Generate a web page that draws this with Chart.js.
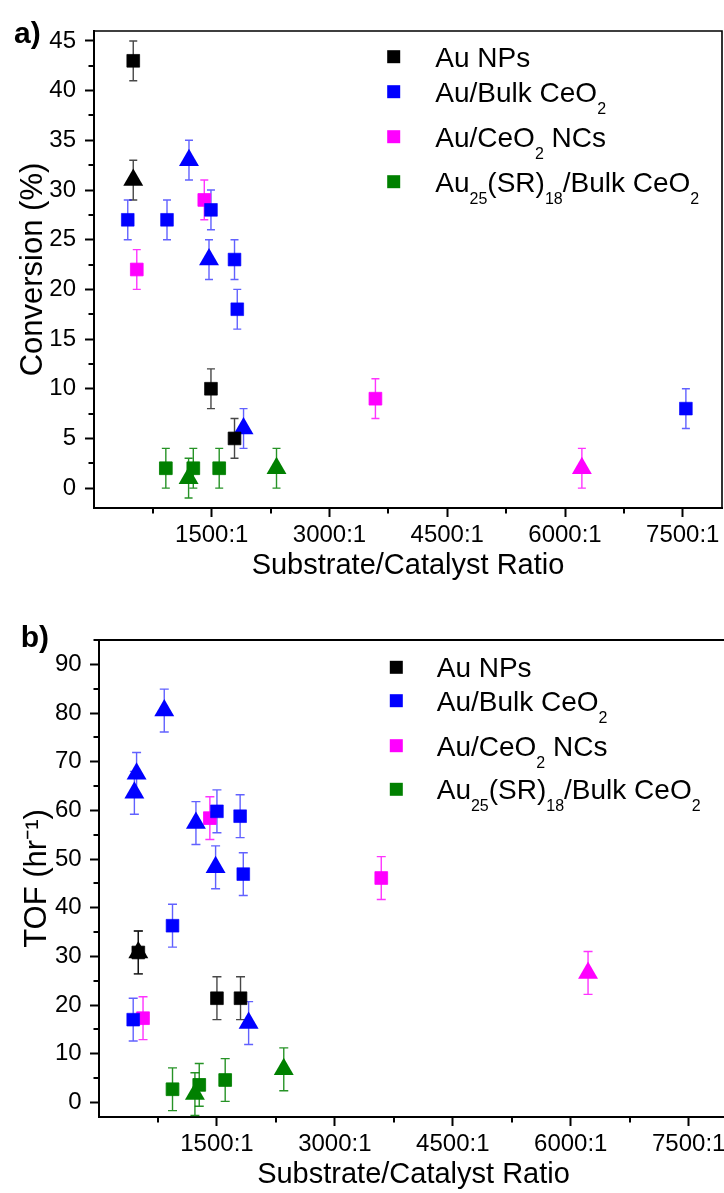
<!DOCTYPE html>
<html>
<head>
<meta charset="utf-8">
<script src="https://cdn.jsdelivr.net/npm/chart.js@4/dist/chart.umd.min.js"></script>
<style>
  html, body { margin: 0; padding: 0; background: #fff; overflow: hidden; width: 724px; height: 1193px; }
  #wrap { position: relative; width: 724px; height: 1193px; overflow: hidden; }
  canvas { position: absolute; left: 0; display: block; }
  #convCanvas { top: 0; }
  #tofCanvas { top: 590px; }
</style>
</head>
<body>
<div id="wrap">
  <canvas id="convCanvas" width="724" height="590"></canvas>
  <canvas id="tofCanvas" width="730" height="603"></canvas>
</div>
<script>
// ---------- series ----------
const seriesNames  = ['Au NPs', 'Au/Bulk CeO_2', 'Au/CeO_2 NCs', 'Au_25(SR)_18/Bulk CeO_2'];
const seriesColors = ['#000000', '#0000ff', '#ff00ff', '#008000'];
const seriesErrColors = ['rgba(0,0,0,0.72)', 'rgba(0,0,255,0.62)', 'rgba(255,0,255,0.8)', 'rgba(0,128,0,0.85)'];

// ---------- axes ----------
const xTickValues = [1500, 3000, 4500, 6000, 7500];
const xTickLabels = ['1500:1', '3000:1', '4500:1', '6000:1', '7500:1'];
const xMinorTicks = [750, 2250, 3750, 5250, 6750];
const convTickValues = [0, 5, 10, 15, 20, 25, 30, 35, 40, 45];
const convMinorTicks = [2.5, 7.5, 12.5, 17.5, 22.5, 27.5, 32.5, 37.5, 42.5];
const tofTickValues = [0, 10, 20, 30, 40, 50, 60, 70, 80, 90];
const tofMinorTicks = [5, 15, 25, 35, 45, 55, 65, 75, 85, 95];

// ---------- a) Conversion (%) ----------
const convNPsSqX = [500, 1490, 1790];
const convNPsSqY = [43, 10, 5];
const convNPsSqErr = [2, 2, 2];
const convNPsTriX = [500];
const convNPsTriY = [31];
const convNPsTriErr = [2];

const convBulkSqX = [430, 930, 1490, 1790, 1825, 7540];
const convBulkSqY = [27, 27, 28, 23, 18, 8];
const convBulkSqErr = [2, 2, 2, 2, 2, 2];
const convBulkTriX = [1210, 1465, 1905];
const convBulkTriY = [33, 23, 6];
const convBulkTriErr = [2, 2, 2];

const convNCsSqX = [545, 1405, 3585];
const convNCsSqY = [22, 29, 9];
const convNCsSqErr = [2, 2, 2];
const convNCsTriX = [6215];
const convNCsTriY = [2];
const convNCsTriErr = [2];

const convAu25SqX = [915, 1265, 1595];
const convAu25SqY = [2, 2, 2];
const convAu25SqErr = [2, 2, 2];
const convAu25TriX = [1205, 2325];
const convAu25TriY = [1, 2];
const convAu25TriErr = [2, 2];

// ---------- b) TOF (hr^-1) ----------
const tofNPsSqX = [500, 1500, 1800];
const tofNPsSqY = [30.8, 21.4, 21.4];
const tofNPsSqErr = [4.4, 4.4, 4.4];
const tofNPsTriX = [500];
const tofNPsTriY = [30.8];
const tofNPsTriErr = [4.4];

const tofBulkSqX = [435, 935, 1500, 1795, 1835];
const tofBulkSqY = [17.0, 36.3, 59.8, 58.8, 46.9];
const tofBulkSqErr = [4.4, 4.4, 4.4, 4.4, 4.4];
const tofBulkTriX = [450, 478, 830, 1233, 1483, 1903];
const tofBulkTriY = [63.6, 67.5, 80.5, 57.4, 48.3, 16.3];
const tofBulkTriErr = [4.4, 4.4, 4.4, 4.4, 4.4, 4.4];

const tofNCsSqX = [560, 1410, 3590];
const tofNCsSqY = [17.3, 58.4, 46.1];
const tofNCsSqErr = [4.4, 4.4, 4.4];
const tofNCsTriX = [6220];
const tofNCsTriY = [26.6];
const tofNCsTriErr = [4.4];

const tofAu25SqX = [935, 1275, 1605];
const tofAu25SqY = [2.7, 3.6, 4.6];
const tofAu25SqErr = [4.4, 4.4, 4.4];
const tofAu25TriX = [1220, 2350];
const tofAu25TriY = [1.7, 6.8];
const tofAu25TriErr = [4.4, 4.4];

// ---------- helpers ----------
const FONT = '"Liberation Sans", Arial, Helvetica, sans-serif';

function makeSet(series, shape, xs, ys, errs) {
  const isTri = shape === 'triangle';
  return {
    label: seriesNames[series],
    data: xs.map((x, i) => ({ x: x, y: ys[i] })),
    errors: errs,
    errorColor: seriesErrColors[series],
    pointStyle: shape,
    pointRadius: isTri ? 11.5 : 9,
    pointHoverRadius: isTri ? 11.5 : 9,
    backgroundColor: seriesColors[series],
    borderColor: isTri ? seriesColors[series] : seriesErrColors[series],
    borderWidth: isTri ? 0 : 1,
    showLine: false
  };
}

// vertical error bars with caps, drawn through the y scale
const errorBarPlugin = {
  id: 'errorBars',
  beforeDatasetsDraw(chart, args, opts) {
    const ctx = chart.ctx;
    const ys = chart.scales.y;
    const cap = opts.cap || 8;
    ctx.save();
    ctx.lineWidth = 1.4;
    chart.data.datasets.forEach((ds, di) => {
      const meta = chart.getDatasetMeta(di);
      ctx.strokeStyle = ds.errorColor;
      meta.data.forEach((pt, i) => {
        const v = ds.data[i].y;
        const e = ds.errors[i];
        const x = pt.x;
        const yTop = ys.getPixelForValue(v + e);
        const yBot = ys.getPixelForValue(v - e);
        ctx.beginPath();
        ctx.moveTo(x, yTop); ctx.lineTo(x, yBot);
        ctx.moveTo(x - cap / 2, yTop); ctx.lineTo(x + cap / 2, yTop);
        ctx.moveTo(x - cap / 2, yBot); ctx.lineTo(x + cap / 2, yBot);
        ctx.stroke();
      });
    });
    ctx.restore();
  }
};

// draws a legend label where "_digits" is set as a subscript
function drawRichLabel(ctx, text, x, y) {
  const parts = text.split(/(_\d+)/).filter(s => s.length);
  let cx = x;
  parts.forEach(p => {
    if (p[0] === '_') {
      ctx.font = '16px ' + FONT;
      ctx.fillText(p.slice(1), cx, y + 12);
      cx += ctx.measureText(p.slice(1)).width;
    } else {
      ctx.font = '28px ' + FONT;
      ctx.fillText(p, cx, y);
      cx += ctx.measureText(p).width;
    }
  });
}

// frame, minor ticks, panel letter and legend
const decorPlugin = {
  id: 'decor',
  afterDraw(chart, args, opts) {
    const ctx = chart.ctx;
    const { left, right, top, bottom } = chart.chartArea;
    const xs = chart.scales.x, ys = chart.scales.y;
    ctx.save();
    ctx.strokeStyle = '#000';
    ctx.lineWidth = opts.frameWidth;
    ctx.beginPath();
    ctx.moveTo(left - 1, top);
    ctx.lineTo(right, top);
    ctx.lineTo(right, bottom);
    ctx.stroke();

    ctx.lineWidth = 2;
    opts.xMinor.forEach(v => {
      const px = Math.round(xs.getPixelForValue(v));
      ctx.beginPath(); ctx.moveTo(px, bottom); ctx.lineTo(px, bottom + 5.5); ctx.stroke();
    });
    opts.yMinor.forEach(v => {
      const py = Math.round(ys.getPixelForValue(v));
      ctx.beginPath(); ctx.moveTo(left, py); ctx.lineTo(left - 5.5, py); ctx.stroke();
    });

    ctx.fillStyle = '#000';
    ctx.textBaseline = 'alphabetic';
    ctx.textAlign = 'left';
    ctx.font = 'bold 30px ' + FONT;
    ctx.fillText(opts.panel, opts.panelX, opts.panelY);

    const lg = opts.legend;
    seriesNames.forEach((name, i) => {
      const base = lg.baselines[i];
      ctx.fillStyle = seriesColors[i];
      ctx.fillRect(lg.markerX - 6.5, base - 10 - 6.5, 13, 13);
      ctx.fillStyle = '#000';
      drawRichLabel(ctx, name, lg.textX, base);
    });
    ctx.restore();
  }
};

function scaleOptions(kind, cfg) {
  const common = {
    type: 'linear',
    min: cfg.min, max: cfg.max,
    grid: { drawOnChartArea: false, drawTicks: true, tickLength: 9, tickWidth: 2, color: '#000' },
    border: { display: true, color: '#000', width: 2 },
    ticks: {
      color: '#000',
      font: { family: FONT, size: 24, lineHeight: 1 },
      padding: cfg.tickPad,
      autoSkip: false, maxRotation: 0, minRotation: 0
    },
    title: {
      display: true, text: cfg.title, color: '#000',
      font: { family: FONT, size: cfg.titleSize, lineHeight: 1 },
      padding: cfg.titlePad
    }
  };
  const fixed = s => {
    s.paddingLeft = 0; s.paddingRight = 0; s.paddingTop = 0; s.paddingBottom = 0;
  };
  if (kind === 'x') {
    common.position = 'bottom';
    common.afterBuildTicks = s => { s.ticks = xTickValues.map(v => ({ value: v })); };
    common.ticks.callback = v => xTickLabels[xTickValues.indexOf(v)];
    common.afterFit = s => { s.height = cfg.size; fixed(s); };
  } else {
    common.position = 'left';
    common.afterBuildTicks = s => { s.ticks = cfg.values.map(v => ({ value: v })); };
    common.ticks.callback = v => String(v);
    common.afterFit = s => { s.width = cfg.size; fixed(s); };
  }
  return common;
}

Chart.defaults.font.family = FONT;

// ---------- a) ----------
new Chart(document.getElementById('convCanvas'), {
  type: 'scatter',
  data: {
    datasets: [
      makeSet(0, 'rect', convNPsSqX, convNPsSqY, convNPsSqErr),
      makeSet(0, 'triangle', convNPsTriX, convNPsTriY, convNPsTriErr),
      makeSet(1, 'rect', convBulkSqX, convBulkSqY, convBulkSqErr),
      makeSet(1, 'triangle', convBulkTriX, convBulkTriY, convBulkTriErr),
      makeSet(2, 'rect', convNCsSqX, convNCsSqY, convNCsSqErr),
      makeSet(2, 'triangle', convNCsTriX, convNCsTriY, convNCsTriErr),
      makeSet(3, 'rect', convAu25SqX, convAu25SqY, convAu25SqErr),
      makeSet(3, 'triangle', convAu25TriX, convAu25TriY, convAu25TriErr)
    ]
  },
  options: {
    responsive: false, animation: false, events: [],
    layout: { autoPadding: false, padding: { top: 31, right: 2, left: 0, bottom: 0 } },
    plugins: {
      legend: { display: false }, tooltip: { enabled: false },
      errorBars: { cap: 8 },
      decor: {
        frameWidth: 1.6, xMinor: xMinorTicks, yMinor: convMinorTicks,
        panel: 'a)', panelX: 14, panelY: 43,
        legend: { markerX: 393.7, textX: 435.3, baselines: [66.7, 101.7, 146.7, 191.7] }
      }
    },
    scales: {
      x: scaleOptions('x', { min: 0, max: 8000, tickPad: 6.5, title: 'Substrate/Catalyst Ratio', titleSize: 29,
                             titlePad: { top: 0, bottom: 10 }, size: 82 }),
      y: scaleOptions('y', { min: -2, max: 46, values: convTickValues, tickPad: 9, title: 'Conversion (%)', titleSize: 31,
                             titlePad: { top: 18.3, bottom: 0 }, size: 94 })
    }
  },
  plugins: [errorBarPlugin, decorPlugin]
});

// ---------- b) ----------
new Chart(document.getElementById('tofCanvas'), {
  type: 'scatter',
  data: {
    datasets: [
      makeSet(0, 'rect', tofNPsSqX, tofNPsSqY, tofNPsSqErr),
      makeSet(0, 'triangle', tofNPsTriX, tofNPsTriY, tofNPsTriErr),
      makeSet(1, 'rect', tofBulkSqX, tofBulkSqY, tofBulkSqErr),
      makeSet(1, 'triangle', tofBulkTriX, tofBulkTriY, tofBulkTriErr),
      makeSet(2, 'rect', tofNCsSqX, tofNCsSqY, tofNCsSqErr),
      makeSet(2, 'triangle', tofNCsTriX, tofNCsTriY, tofNCsTriErr),
      makeSet(3, 'rect', tofAu25SqX, tofAu25SqY, tofAu25SqErr),
      makeSet(3, 'triangle', tofAu25TriX, tofAu25TriY, tofAu25TriErr)
    ]
  },
  options: {
    responsive: false, animation: false, events: [],
    layout: { autoPadding: false, padding: { top: 50, right: 2, left: 0, bottom: 0 } },
    plugins: {
      legend: { display: false }, tooltip: { enabled: false },
      errorBars: { cap: 9 },
      decor: {
        frameWidth: 2, xMinor: xMinorTicks, yMinor: tofMinorTicks,
        panel: 'b)', panelX: 20.7, panelY: 57.3,
        legend: { markerX: 396.3, textX: 436.7, baselines: [87.3, 120.7, 165.7, 209.3] }
      }
    },
    scales: {
      x: scaleOptions('x', { min: 0, max: 8000, tickPad: 6.5, title: 'Substrate/Catalyst Ratio', titleSize: 29,
                             titlePad: { top: 0, bottom: 3.5 }, size: 76 }),
      y: scaleOptions('y', { min: -3, max: 95, values: tofTickValues, tickPad: 8.3, title: 'TOF (hr\u207B\u00B9)', titleSize: 31,
                             titlePad: { top: 22.1, bottom: 0 }, size: 99 })
    }
  },
  plugins: [errorBarPlugin, decorPlugin]
});
</script>
</body>
</html>
